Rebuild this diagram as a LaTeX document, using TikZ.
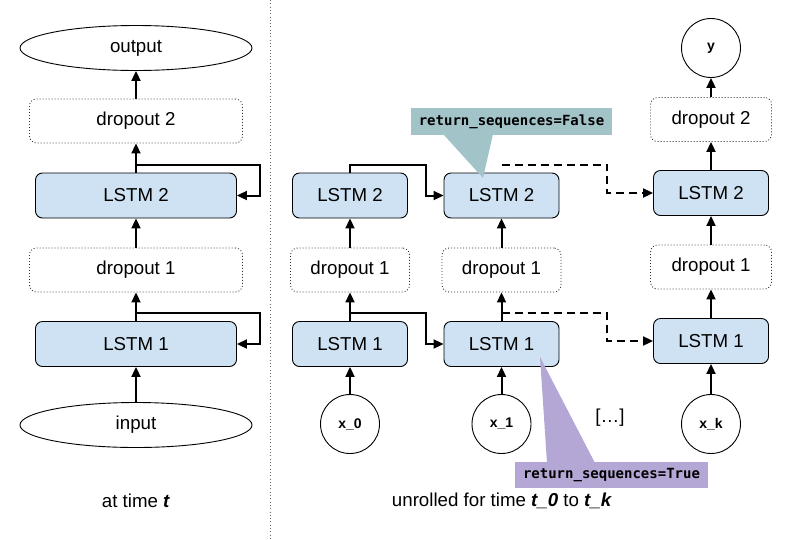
\documentclass[tikz,border=0pt]{standalone}
\usepackage{fontspec}
\setmainfont{Liberation Sans}
\setmonofont{DejaVu Sans Mono}
\usetikzlibrary{arrows.meta,shapes.geometric}
\definecolor{lstmblue}{HTML}{CFE2F3}
\definecolor{tealnote}{HTML}{A2C4C9}
\definecolor{purplenote}{HTML}{B4A7D6}

\begin{document}
\begin{tikzpicture}[x=1pt,y=-1pt,font=\fontsize{18.7}{21}\selectfont,
  lstm/.style={draw,fill=lstmblue,rounded corners=7pt,line width=0.9pt,inner sep=0pt,minimum height=45pt},
  drop/.style={draw=black!80,dash pattern=on 0.9pt off 2.1pt,rounded corners=7pt,line width=0.9pt,inner sep=0pt,minimum height=44pt},
  io/.style={draw,ellipse,line width=0.9pt,inner sep=0pt,minimum width=232pt,minimum height=45pt},
  seq/.style={draw,circle,line width=0.9pt,inner sep=0pt,minimum size=59pt,font=\bfseries\fontsize{14}{16}\selectfont},
  flow/.style={line width=2pt,-{Triangle[length=10pt,width=9pt]}},
  note/.style={inner sep=0pt,font=\ttfamily\bfseries\fontsize{14}{16}\selectfont}]
\useasboundingbox (0,0) rectangle (800,539);

% divider
\draw[black!60,dash pattern=on 0.9pt off 2.4pt,line width=0.8pt] (270,0) -- (270,539);

% left: one time step
\node[io] (out) at (136,48) {output};
\node[drop,minimum width=213pt] (dropB) at (136,121) {dropout 2};
\node[lstm,minimum width=201pt] (lstmB) at (136,195.5) {LSTM 2};
\node[drop,minimum width=213pt] (dropA) at (136,270) {dropout 1};
\node[lstm,minimum width=201pt] (lstmA) at (136,344) {LSTM 1};
\node[io] (in) at (136,425) {input};

\draw[flow] (in) -- (lstmA);
\draw[flow] (lstmA) -- (dropA);
\draw[flow] (dropA) -- (lstmB);
\draw[flow] (lstmB) -- (dropB);
\draw[flow] (dropB) -- (out);
\draw[flow] ([yshift=8pt]lstmA.north) -| ([xshift=23pt]lstmA.east) -- (lstmA.east);
\draw[flow] ([yshift=8pt]lstmB.north) -| ([xshift=23pt]lstmB.east) -- (lstmB.east);

\node (capL) at (136,501) {at time \textbf{\textit{t}}};

% right: unrolled
\node[lstm,minimum width=115pt] (lstmB0) at (350,195.5) {LSTM 2};
\node[drop,minimum width=119pt] (dropA0) at (350,270) {dropout 1};
\node[lstm,minimum width=115pt] (lstmA0) at (350,344) {LSTM 1};
\node[seq] (x0) at (350,424) {x\_0};

\node[lstm,minimum width=115pt] (lstmB1) at (501.5,195.5) {LSTM 2};
\node[drop,minimum width=119pt] (dropA1) at (501.5,270) {dropout 1};
\node[lstm,minimum width=115pt] (lstmA1) at (501.5,344) {LSTM 1};
\node[seq] (x1) at (501.5,424) {x\_1};

\node[seq] (yk) at (711,48) {y};
\node[drop,minimum width=121pt] (dropBk) at (711,119.5) {dropout 2};
\node[lstm,minimum width=115pt] (lstmBk) at (711,193) {LSTM 2};
\node[drop,minimum width=121pt] (dropAk) at (711,267) {dropout 1};
\node[lstm,minimum width=115pt] (lstmAk) at (711,341) {LSTM 1};
\node[seq] (xk) at (711,424) {x\_k};

\node (dots) at (610,418) {[…]};

\draw[flow] (x0) -- (lstmA0);
\draw[flow] (lstmA0) -- (dropA0);
\draw[flow] (dropA0) -- (lstmB0);
\draw[flow] (x1) -- (lstmA1);
\draw[flow] (lstmA1) -- (dropA1);
\draw[flow] (dropA1) -- (lstmB1);
\draw[flow] (xk) -- (lstmAk);
\draw[flow] (lstmAk) -- (dropAk);
\draw[flow] (dropAk) -- (lstmBk);
\draw[flow] (lstmBk) -- (dropBk);
\draw[flow] (dropBk) -- (yk);

\draw[flow] (lstmB0.north) -- ([yshift=8pt]lstmB0.north) -| ([xshift=-18pt]lstmB1.west) -- (lstmB1.west);
\draw[flow] (lstmA0.north) -- ([yshift=8pt]lstmA0.north) -| ([xshift=-18pt]lstmA1.west) -- (lstmA1.west);
\draw[flow,dash pattern=on 8pt off 5pt] ([yshift=8pt]lstmB1.north) -| ([xshift=-46pt]lstmBk.west) -- (lstmBk.west);
\draw[flow,dash pattern=on 8pt off 5pt] ([yshift=8pt]lstmA1.north) -| ([xshift=-46pt]lstmAk.west) -- (lstmAk.west);

% callouts
\fill[tealnote] (411,108) rectangle (612,135);
\fill[tealnote] (443,134) -- (483,178) -- (493,134) -- cycle;
\node[note] (noteF) at (511.5,121.5) {return\_sequences=False};

\fill[purplenote] (515,462) rectangle (708,488);
\fill[purplenote] (547,463) -- (540,357) -- (595,463) -- cycle;
\node[note] (noteT) at (611.5,475) {return\_sequences=True};

\node (capR) at (502,501) {unrolled for time \textbf{\textit{t\_0}} to \textbf{\textit{t\_k}}};
\end{tikzpicture}
\end{document}
